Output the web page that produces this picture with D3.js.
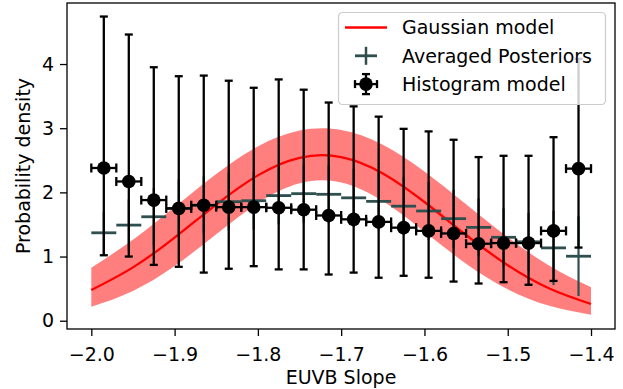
<!DOCTYPE html>
<html>
<head>
<meta charset="utf-8">
<script src="https://cdn.jsdelivr.net/npm/d3@7"></script>
<style>
  body { margin: 0; background: #fff; }
  text { font-family: "DejaVu Sans", sans-serif; }
</style>
</head>
<body>
<div id="chart"></div>
<script>
// bin centres of the histogram model (and averaged posteriors)
const binCenters = [-1.985, -1.955, -1.925, -1.895, -1.865, -1.835, -1.805, -1.775, -1.745, -1.715,
                    -1.685, -1.655, -1.625, -1.595, -1.565, -1.535, -1.505, -1.475, -1.445, -1.415];
const binHalfWidth = 0.015;

// histogram model: value, upper and lower error bounds
const histValues = [2.38, 2.17, 1.88, 1.75, 1.80, 1.77, 1.77, 1.76, 1.73, 1.64,
                    1.58, 1.54, 1.45, 1.40, 1.36, 1.20, 1.21, 1.21, 1.40, 2.37];
const histUpper  = [4.74, 4.46, 3.95, 3.81, 3.82, 3.74, 3.63, 3.76, 3.60, 3.40,
                    3.34, 3.18, 2.99, 2.95, 2.82, 2.55, 2.57, 2.57, 2.86, 4.08];
const histLower  = [1.02, 1.00, 0.87, 0.84, 0.75, 0.81, 0.85, 0.80, 0.80, 0.72,
                    0.75, 0.67, 0.70, 0.67, 0.61, 0.58, 0.60, 0.56, 0.62, 1.14];

// averaged posteriors: value and symmetric error
const postValues = [1.37, 1.49, 1.62, 1.75, 1.80, 1.855, 1.87, 1.95, 1.98, 1.97,
                    1.915, 1.86, 1.785, 1.71, 1.59, 1.455, 1.30, 1.23, 1.135, 1.005];
const postErr    = [0.33, 0.40, 0.45, 0.45, 0.45, 0.45, 0.45, 0.45, 0.45, 0.45,
                    0.45, 0.45, 0.45, 0.45, 0.45, 0.45, 0.45, 0.45, 0.58, 0.62];

// gaussian model curve with its band
const gaussX     = [-2.00, -1.95, -1.90, -1.85, -1.80, -1.75, -1.70, -1.65, -1.60, -1.55, -1.50, -1.45, -1.40];
const gaussMid   = [0.478, 0.831, 1.296, 1.810, 2.265, 2.539, 2.550, 2.295, 1.850, 1.336, 0.865, 0.502, 0.261];
const gaussUpper = [0.826, 1.262, 1.772, 2.288, 2.716, 2.963, 2.973, 2.743, 2.327, 1.814, 1.300, 0.857, 0.520];
const gaussLower = [0.217, 0.464, 0.852, 1.347, 1.832, 2.142, 2.155, 1.865, 1.388, 0.889, 0.490, 0.232, 0.095];

const xTicks = [-2.0, -1.9, -1.8, -1.7, -1.6, -1.5, -1.4];
const yTicks = [0, 1, 2, 3, 4];
const legendLabels = ["Gaussian model", "Averaged Posteriors", "Histogram model"];

const W = 623, H = 389;
const margin = { top: 3, right: 8, bottom: 60, left: 67 },
    width = W - margin.left - margin.right,
    height = H - margin.top - margin.bottom;

const grey = "#2f4f4f";
const fontSize = 19;

const svg = d3.select("#chart")
    .append("svg")
    .attr("width", W)
    .attr("height", H);

const g = svg.append("g")
    .attr("transform", `translate(${margin.left},${margin.top})`);

const x = d3.scaleLinear().domain([-2.0292, -1.3712]).range([0, width]);
const y = d3.scaleLinear().domain([-0.129, 4.951]).range([height, 0]);

const fmt = d => d3.format(".1f")(d).replace("-", "\u2212");

// axes
const xAxis = g.append("g")
    .attr("transform", `translate(0,${height})`)
    .call(d3.axisBottom(x).tickValues(xTicks).tickFormat(fmt).tickSize(7).tickPadding(11.5));
const yAxis = g.append("g")
    .call(d3.axisLeft(y).tickValues(yTicks).tickFormat(d3.format("d")).tickSize(7).tickPadding(6));
[xAxis, yAxis].forEach(a => {
    a.select(".domain").remove();
    a.selectAll(".tick line").attr("stroke", "#000").attr("stroke-width", 1.3);
    a.selectAll(".tick text")
        .attr("fill", "#000")
        .style("font-size", fontSize + "px")
        .style("font-family", "DejaVu Sans");
});

// clip to the axes area
g.append("clipPath").attr("id", "clip")
    .append("rect").attr("width", width).attr("height", height);
const plot = g.append("g").attr("clip-path", "url(#clip)");

// gaussian band and line
const gauss = gaussX.map((v, i) => ({ x: v, m: gaussMid[i], u: gaussUpper[i], l: gaussLower[i] }));
plot.append("path")
    .datum(gauss)
    .attr("fill", "#ff0000")
    .attr("fill-opacity", 0.5)
    .attr("d", d3.area().curve(d3.curveNatural)
        .x(d => x(d.x)).y0(d => y(d.l)).y1(d => y(d.u)));
plot.append("path")
    .datum(gauss)
    .attr("fill", "none")
    .attr("stroke", "#ff0000")
    .attr("stroke-width", 2.3)
    .attr("d", d3.line().curve(d3.curveNatural).x(d => x(d.x)).y(d => y(d.m)));

// averaged posteriors (error bars, no marker)
const post = binCenters.map((c, i) => ({ c, v: postValues[i], e: postErr[i] }));
const pg = plot.append("g").attr("stroke", grey);
pg.selectAll(".pv").data(post).join("line")
    .attr("x1", d => x(d.c)).attr("x2", d => x(d.c))
    .attr("y1", d => y(d.v - d.e)).attr("y2", d => y(d.v + d.e))
    .attr("stroke-width", 2.2);
pg.selectAll(".ph").data(post).join("line")
    .attr("x1", d => x(d.c - binHalfWidth)).attr("x2", d => x(d.c + binHalfWidth))
    .attr("y1", d => y(d.v)).attr("y2", d => y(d.v))
    .attr("stroke-width", 2.8);

// histogram model
const hist = binCenters.map((c, i) => ({ c, v: histValues[i], hi: histUpper[i], lo: histLower[i] }));
const hg = plot.append("g").attr("stroke", "#000").attr("stroke-width", 2.3);
const cap = 4;
hist.forEach(d => {
    const cx = x(d.c), cy = y(d.v);
    const x0 = x(d.c - binHalfWidth), x1 = x(d.c + binHalfWidth);
    hg.append("line").attr("x1", cx).attr("x2", cx).attr("y1", y(d.lo)).attr("y2", y(d.hi));
    hg.append("line").attr("x1", x0).attr("x2", x1).attr("y1", cy).attr("y2", cy);
    [y(d.lo), y(d.hi)].forEach(yy =>
        hg.append("line").attr("x1", cx - cap).attr("x2", cx + cap).attr("y1", yy).attr("y2", yy));
    [x0, x1].forEach(xx =>
        hg.append("line").attr("x1", xx).attr("x2", xx).attr("y1", cy - cap - 0.5).attr("y2", cy + cap + 0.5));
});
plot.selectAll(".dot").data(hist).join("circle")
    .attr("cx", d => x(d.c)).attr("cy", d => y(d.v))
    .attr("r", 6.8).attr("fill", "#000");

// frame
g.append("rect")
    .attr("width", width).attr("height", height)
    .attr("fill", "none").attr("stroke", "#000").attr("stroke-width", 1.3);

// axis labels
svg.append("text")
    .attr("x", margin.left + width / 2).attr("y", 384)
    .attr("text-anchor", "middle")
    .style("font-size", fontSize + "px")
    .text("EUVB Slope");
svg.append("text")
    .attr("transform", `translate(30,${margin.top + height / 2}) rotate(-90)`)
    .attr("text-anchor", "middle")
    .style("font-size", fontSize + "px")
    .text("Probability density");

// legend
const lg = svg.append("g").attr("transform", "translate(338,12)");
lg.append("rect")
    .attr("x", 0.5).attr("y", 0.5).attr("width", 267).attr("height", 92).attr("rx", 4)
    .attr("fill", "#fff").attr("fill-opacity", 0.8)
    .attr("stroke", "#cccccc").attr("stroke-width", 1.2);
const rowY = [15.5, 43.8, 72.1];
const hx = 28;
lg.append("line").attr("x1", hx - 21).attr("x2", hx + 21).attr("y1", rowY[0]).attr("y2", rowY[0])
    .attr("stroke", "#ff0000").attr("stroke-width", 2.3);
lg.append("line").attr("x1", hx).attr("x2", hx).attr("y1", rowY[1] - 9).attr("y2", rowY[1] + 9)
    .attr("stroke", grey).attr("stroke-width", 2.5);
lg.append("line").attr("x1", hx - 11).attr("x2", hx + 11).attr("y1", rowY[1]).attr("y2", rowY[1])
    .attr("stroke", grey).attr("stroke-width", 2.8);
const lh = lg.append("g").attr("stroke", "#000").attr("stroke-width", 2.3);
lh.append("line").attr("x1", hx).attr("x2", hx).attr("y1", rowY[2] - 10).attr("y2", rowY[2] + 10);
lh.append("line").attr("x1", hx - 11).attr("x2", hx + 11).attr("y1", rowY[2]).attr("y2", rowY[2]);
[rowY[2] - 10, rowY[2] + 10].forEach(yy =>
    lh.append("line").attr("x1", hx - cap).attr("x2", hx + cap).attr("y1", yy).attr("y2", yy));
[hx - 11, hx + 11].forEach(xx =>
    lh.append("line").attr("x1", xx).attr("x2", xx).attr("y1", rowY[2] - cap).attr("y2", rowY[2] + cap));
lg.append("circle").attr("cx", hx).attr("cy", rowY[2]).attr("r", 6.8).attr("fill", "#000");
legendLabels.forEach((t, i) => {
    lg.append("text")
        .attr("x", 64).attr("y", rowY[i]).attr("dy", "0.36em")
        .style("font-size", fontSize + "px")
        .text(t);
});
</script>
</body>
</html>
